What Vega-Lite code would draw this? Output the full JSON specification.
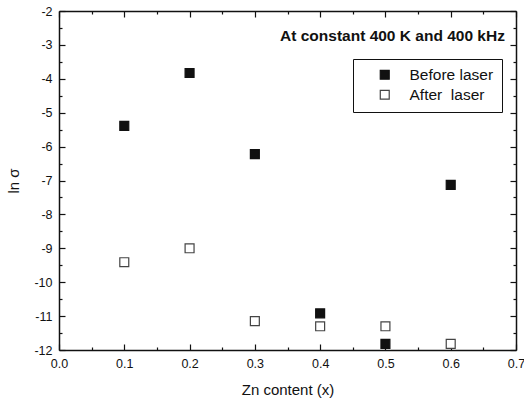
{
  "$schema": "https://vega.github.io/schema/vega-lite/v6.json",
  "width": 457,
  "height": 339,
  "autosize": {"type": "none"},
  "padding": {"left": 59, "top": 11, "right": 8, "bottom": 53},
  "background": "white",
  "config": {
    "view": {"stroke": null},
    "font": "Liberation Sans",
    "axis": {
      "grid": false,
      "domainColor": "#111",
      "domainWidth": 1.5,
      "tickColor": "#111",
      "tickWidth": 1.2,
      "labelFont": "Liberation Sans",
      "labelFontSize": 12.5,
      "labelColor": "#111",
      "titleFont": "Liberation Sans",
      "titleFontSize": 15,
      "titleFontWeight": "normal",
      "titleColor": "#111",
      "labelOverlap": false,
      "labelFlush": false
    },
    "legend": {
      "strokeColor": "#111",
      "fillColor": "white",
      "padding": 8,
      "labelFont": "Liberation Sans",
      "labelFontSize": 15.5,
      "labelColor": "#111",
      "symbolType": "square",
      "symbolSize": 80,
      "symbolOffset": 16,
      "rowPadding": 3,
      "labelOffset": 17,
      "symbolStrokeWidth": 1.2
    }
  },
  "data": {
    "values": [
      {"x": 0.1, "y": -5.39, "series": "Before laser"},
      {"x": 0.2, "y": -3.83, "series": "Before laser"},
      {"x": 0.3, "y": -6.22, "series": "Before laser"},
      {"x": 0.4, "y": -10.92, "series": "Before laser"},
      {"x": 0.5, "y": -11.82, "series": "Before laser"},
      {"x": 0.6, "y": -7.13, "series": "Before laser"},
      {"x": 0.1, "y": -9.41, "series": "After\u00a0 laser"},
      {"x": 0.2, "y": -9.0, "series": "After\u00a0 laser"},
      {"x": 0.3, "y": -11.15, "series": "After\u00a0 laser"},
      {"x": 0.4, "y": -11.3, "series": "After\u00a0 laser"},
      {"x": 0.5, "y": -11.3, "series": "After\u00a0 laser"},
      {"x": 0.6, "y": -11.82, "series": "After\u00a0 laser"}
    ]
  },
  "layer": [
    {
      "mark": {"type": "point", "shape": "square", "filled": true, "size": 80, "strokeWidth": 1.2, "opacity": 1},
      "encoding": {
        "x": {
          "field": "x", "type": "quantitative",
          "scale": {"domain": [0, 0.7], "nice": false, "zero": false},
          "axis": {
            "orient": "bottom",
            "values": [0, 0.05, 0.1, 0.15, 0.2, 0.25, 0.3, 0.35, 0.4, 0.45, 0.5, 0.55, 0.6, 0.65, 0.7],
            "labelExpr": "round(datum.value*100)%10==0 ? format(datum.value,'.1f') : ''",
            "tickSize": {"condition": {"test": "round(datum.value*100)%10!=0", "value": -3}, "value": -6},
            "labelPadding": 13,
            "title": "Zn content (x)",
            "titlePadding": 10
          }
        },
        "y": {
          "field": "y", "type": "quantitative",
          "scale": {"domain": [-12, -2], "nice": false, "zero": false},
          "axis": {
            "orient": "left",
            "values": [-12, -11.5, -11, -10.5, -10, -9.5, -9, -8.5, -8, -7.5, -7, -6.5, -6, -5.5, -5, -4.5, -4, -3.5, -3, -2.5, -2],
            "labelExpr": "datum.value % 1 == 0 ? '' + datum.value : ''",
            "tickSize": {"condition": {"test": "datum.value % 1 != 0", "value": -3}, "value": -6},
            "labelPadding": 13,
            "title": "ln σ",
            "titlePadding": 12
          }
        },
        "fill": {
          "field": "series", "type": "nominal",
          "scale": {"domain": ["Before laser", "After\u00a0 laser"], "range": ["#111111", "#ffffff"]},
          "legend": {"title": null, "orient": "none", "legendX": 294, "legendY": 48}
        },
        "stroke": {
          "field": "series", "type": "nominal",
          "scale": {"domain": ["Before laser", "After\u00a0 laser"], "range": ["#111111", "#444444"]},
          "legend": {"title": null, "orient": "none", "legendX": 294, "legendY": 48}
        }
      }
    },
    {
      "mark": {"type": "point", "opacity": 0},
      "encoding": {
        "x": {
          "field": "x", "type": "quantitative",
          "scale": {"domain": [0, 0.7], "nice": false, "zero": false},
          "axis": {
            "orient": "top",
            "values": [0, 0.05, 0.1, 0.15, 0.2, 0.25, 0.3, 0.35, 0.4, 0.45, 0.5, 0.55, 0.6, 0.65, 0.7],
            "labels": false,
            "tickSize": {"condition": {"test": "round(datum.value*100)%10!=0", "value": -3}, "value": -6},
            "title": null
          }
        },
        "y": {
          "field": "y", "type": "quantitative",
          "scale": {"domain": [-12, -2], "nice": false, "zero": false},
          "axis": {
            "orient": "right",
            "values": [-12, -11.5, -11, -10.5, -10, -9.5, -9, -8.5, -8, -7.5, -7, -6.5, -6, -5.5, -5, -4.5, -4, -3.5, -3, -2.5, -2],
            "labels": false,
            "tickSize": {"condition": {"test": "datum.value % 1 != 0", "value": -3}, "value": -6},
            "title": null
          }
        }
      }
    },
    {
      "data": {"values": [{"label": "At constant 400 K and 400 kHz"}]},
      "mark": {"type": "text", "align": "right", "baseline": "middle", "font": "Liberation Sans", "fontSize": 15.5, "fontWeight": "bold", "fill": "#111"},
      "encoding": {
        "x": {"datum": 0.683, "type": "quantitative", "axis": null},
        "y": {"datum": -2.74, "type": "quantitative", "axis": null},
        "text": {"field": "label", "type": "nominal"}
      }
    }
  ],
  "resolve": {"axis": {"x": "independent", "y": "independent"}}
}
